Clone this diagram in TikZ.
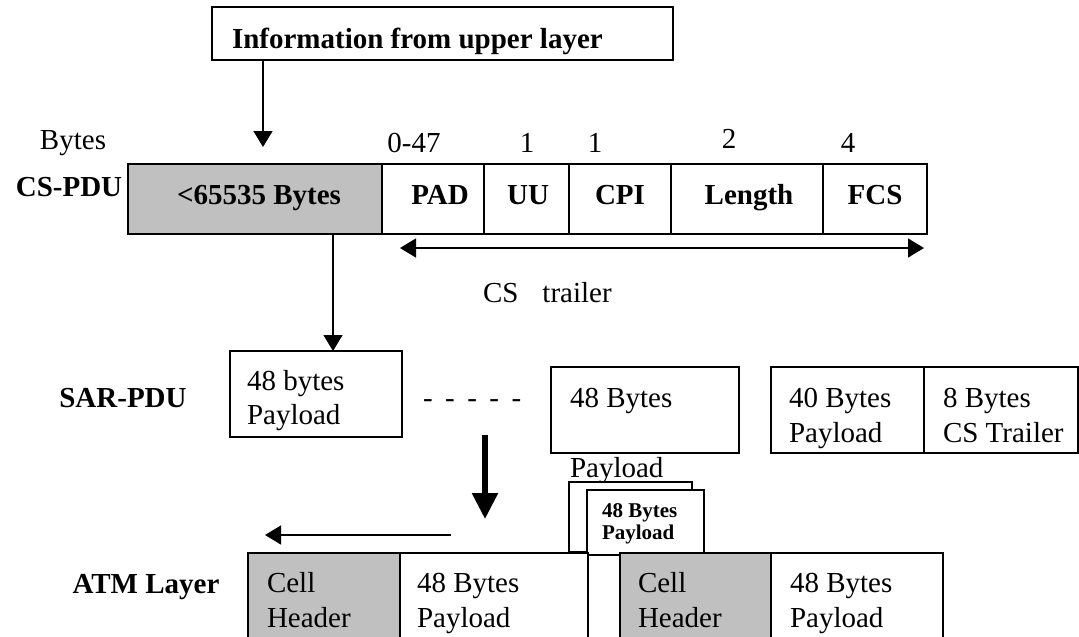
\documentclass[tikz,border=0pt]{standalone}
\usepackage{fontspec}
\setmainfont{Liberation Serif}
\usetikzlibrary{arrows.meta}
\definecolor{cellgray}{RGB}{192,192,192}
\newcommand\bigfont{\fontsize{29}{33}\selectfont}
\newcommand\smallbold{\fontsize{21}{22}\selectfont\bfseries}
% \frameat{name}{x1}{y1}{x2}{y2}{style}: a rectangle given by its corners
\newcommand\frameat[6]{\node[#6, minimum width={#4-#2}, minimum height={#5-#3}] (#1) at (#2,#3) {};}
\tikzset{
  pdubox/.style={draw, line width=1.3pt, rectangle, anchor=north west, inner sep=0pt, outer sep=0pt, fill=white},
  graybox/.style={pdubox, fill=cellgray},
  txt/.style={inner sep=0pt, outer sep=0pt, font=\bigfont, anchor=base west},
  ctxt/.style={txt, anchor=base},
  btxt/.style={ctxt, font=\bigfont\bfseries},
  thinarrow/.style={line width=1.3pt, -{Triangle[width=19pt,length=16pt]}},
  bothway/.style={line width=1.3pt, {Triangle[width=19pt,length=16pt]}-{Triangle[width=19pt,length=16pt]}},
  thickarrow/.style={line width=5.5pt, -{Triangle[width=25pt,length=26pt]}},
}
\begin{document}
\begin{tikzpicture}[x=1pt,y=-1pt]
\useasboundingbox (0,0) rectangle (1079,637);
\clip (0,0) rectangle (1079,637);

% upper layer
\frameat{info}{212}{7}{673}{60}{pdubox}
\node[txt, font=\bigfont\bfseries] (infotext) at (232,48) {Information from upper layer};

% CS-PDU row
\node[ctxt] (bytes) at (73,149) {Bytes};
\node[btxt] (cspdu) at (69,196) {CS-PDU};
\frameat{data}{128}{164}{382}{234}{graybox}
\frameat{pad}{382}{164}{484}{234}{pdubox}
\frameat{uu}{484}{164}{569}{234}{pdubox}
\frameat{cpi}{569}{164}{671}{234}{pdubox}
\frameat{len}{671}{164}{823}{234}{pdubox}
\frameat{fcs}{823}{164}{927}{234}{pdubox}
\node[btxt] (datat) at (259,204) {<65535 Bytes};
\node[btxt] (padt) at (440,204) {PAD};
\node[btxt] (uut) at (528,204) {UU};
\node[btxt] (cpit) at (620,204) {CPI};
\node[btxt] (lent) at (749,204) {Length};
\node[btxt] (fcst) at (875,204) {FCS};
\node[ctxt] (n1) at (414,152) {0-47};
\node[ctxt] (n2) at (527,152) {1};
\node[ctxt] (n3) at (595,152) {1};
\node[ctxt] (n4) at (729,148) {2};
\node[ctxt] (n5) at (848,152) {4};

% CS trailer span
\coordinate (trl) at (400,248);
\coordinate (trr) at (924,248);
\draw[bothway] (trl) -- (trr);
\node[txt] (trailer) at (483,302) {CS\hspace{24pt}trailer};

% arrows into and out of the CS-PDU
\coordinate (intip) at (263,147);
\draw[thinarrow] (info.south -| intip) -- (intip);

% SAR-PDU row
\node[btxt] (sarpdu) at (123,407) {SAR-PDU};
\frameat{sar1}{230}{351}{402}{437}{pdubox}
\coordinate (outx) at (333,0);
\draw[thinarrow] (data.south -| outx) -- (sar1.north -| outx);
\node[txt] (sar1a) at (247,390) {48 bytes};
\node[txt] (sar1b) at (247,424) {Payload};
\node[txt] (dots) at (423,407) {-\hspace{12.5pt}-\hspace{12.5pt}-\hspace{12.5pt}-\hspace{12.5pt}-};
\frameat{sar2}{551}{367}{739}{453}{pdubox}
\node[txt] (sar2a) at (570,407) {48 Bytes};
\node[txt] (sar2b) at (570,477) {Payload};
\frameat{sar3}{771}{367}{924}{453}{pdubox}
\frameat{sar4}{924}{367}{1078}{453}{pdubox}
\node[txt] (sar3a) at (789,407) {40 Bytes};
\node[txt] (sar3b) at (789,442) {Payload};
\node[txt] (sar4a) at (943,407) {8 Bytes};
\node[txt] (sar4b) at (943,442) {CS Trailer};

% segmentation arrows
\coordinate (segtop) at (485,435);
\coordinate (segtip) at (485,519);
\draw[thickarrow] (segtop) -- (segtip);
\coordinate (flowtail) at (451,535);
\coordinate (flowtip) at (265,535);
\draw[thinarrow] (flowtail) -- (flowtip);

% stacked payloads
\frameat{stackback}{569}{482}{692}{552}{pdubox}
\frameat{stackfront}{587}{490}{704}{555}{pdubox}
\node[txt, font=\smallbold] (stacka) at (602,517) {48 Bytes};
\node[txt, font=\smallbold] (stackb) at (602,539) {Payload};

% ATM layer cells
\node[btxt] (atm) at (146,593) {ATM Layer};
\frameat{hdr1}{248}{553}{400}{660}{graybox}
\frameat{pay1}{400}{553}{588}{660}{pdubox}
\frameat{hdr2}{620}{553}{771}{660}{graybox}
\frameat{pay2}{771}{553}{943}{660}{pdubox}
\node[txt] (h1a) at (267,592) {Cell};
\node[txt] (h1b) at (267,627) {Header};
\node[txt] (p1a) at (417,592) {48 Bytes};
\node[txt] (p1b) at (417,627) {Payload};
\node[txt] (h2a) at (638,592) {Cell};
\node[txt] (h2b) at (638,627) {Header};
\node[txt] (p2a) at (790,592) {48 Bytes};
\node[txt] (p2b) at (790,627) {Payload};
\end{tikzpicture}
\end{document}
